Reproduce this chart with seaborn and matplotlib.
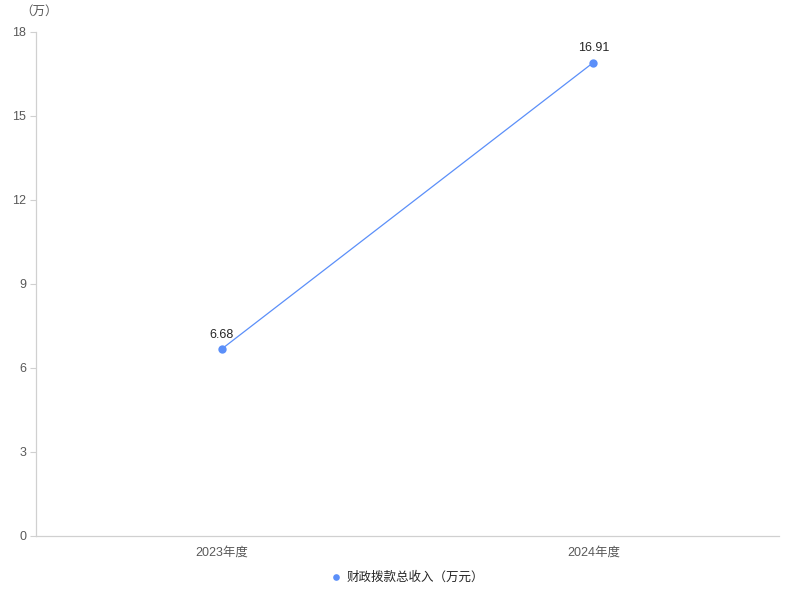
import seaborn as sns
import pandas as pd
import matplotlib
matplotlib.use("Agg")
import matplotlib.pyplot as plt

years = ["2023年度", "2024年度"]
income = [6.68, 16.91]
series_name = "财政拨款总收入（万元）"
y_ticks = [0, 3, 6, 9, 12, 15, 18]

sns.set_style("white")
plt.rcParams['font.family'] = ['Liberation Sans', 'Noto Sans CJK SC', 'DejaVu Sans']

df = pd.DataFrame({"year": years, "value": income})
color = "#5B8FF9"

fig = plt.figure(figsize=(8, 6), dpi=100)
ax = fig.add_axes([0.045, 0.1067, 0.929, 0.84])

sns.lineplot(data=df, x="year", y="value", ax=ax, color=color, linewidth=0.9,
             marker="o", markersize=6, markeredgewidth=0, label=series_name)

for i, v in enumerate(income):
    ax.annotate(f"{v:.2f}", (i, v), xytext=(0, 6), textcoords="offset points",
                ha="center", va="bottom", fontsize=9, color="#262626")

ax.set_xlim(-0.5, 1.5)
ax.set_ylim(0, 18)
ax.set_yticks(y_ticks)
ax.set_xlabel("")
ax.set_ylabel("")

for s in ["top", "right"]:
    ax.spines[s].set_visible(False)
for s in ["left", "bottom"]:
    ax.spines[s].set_color("#D0D0D0")
    ax.spines[s].set_linewidth(0.9)

ax.tick_params(axis="y", length=4, width=0.8, color="#D0D0D0", labelsize=9,
               labelcolor="#595959", pad=3, left=True)
ax.tick_params(axis="x", length=0, labelsize=9, labelcolor="#595959", pad=8)

fig.text(0.025, 0.98, "（万）", fontsize=9, color="#595959", ha="left", va="center")

ax.legend(loc="center", bbox_to_anchor=(0.5, -0.083), frameon=False, fontsize=9,
          handlelength=0.8, handletextpad=0.4, markerscale=0.8,
          labelcolor="#262626")
leg = ax.get_legend()
for h in leg.legend_handles:
    h.set_linestyle("none")

fig.savefig("out.png", dpi=100, facecolor="white")
